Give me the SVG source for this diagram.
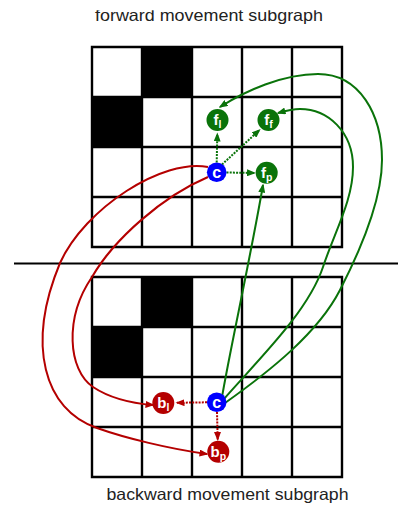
<svg xmlns="http://www.w3.org/2000/svg" width="398" height="508" viewBox="0 0 398 508">
<defs>
<marker id="ar" markerUnits="userSpaceOnUse" markerWidth="9" markerHeight="7" refX="7.5" refY="3.5" orient="auto"><path d="M0,0 L9,3.5 L0,7 z" fill="#b40000"/></marker>
<marker id="ag" markerUnits="userSpaceOnUse" markerWidth="9" markerHeight="7" refX="7.5" refY="3.5" orient="auto"><path d="M0,0 L9,3.5 L0,7 z" fill="#0a730a"/></marker>
<clipPath id="clipTop"><rect x="0" y="10.2" width="398" height="20"/></clipPath>
</defs>
<style>
.gridline {fill:none; stroke:#000; stroke-width:2.4}
.blk {fill:#000}
.red {fill:none; stroke:#b40000; stroke-width:2}
.green {fill:none; stroke:#0a730a; stroke-width:2}
.dot {stroke-dasharray:2 1.2}
.lbl {font-family:"Liberation Sans", Arial, sans-serif; font-weight:bold; fill:#fff; text-anchor:middle}
.title {font-family:"Liberation Sans", Arial, sans-serif; font-size:16.5px; fill:#222}
.nc {fill:#0000ff}
.ng {fill:#0a730a}
.nr {fill:#b40000}
</style>

<g id="title-forward" clip-path="url(#clipTop)">
<text class="title" x="95" y="21" textLength="228" lengthAdjust="spacingAndGlyphs">forward movement subgraph</text>
</g>
<g id="title-backward">
<text class="title" x="106.5" y="499.5" textLength="242" lengthAdjust="spacingAndGlyphs">backward movement subgraph</text>
</g>

<g id="grid-forward">
<rect class="blk" x="142" y="47" width="50" height="50"/>
<rect class="blk" x="92" y="97" width="50" height="50"/>
<path class="gridline" d="M92,47 H342 V247 H92 Z M142,47 V247 M192,47 V247 M242,47 V247 M292,47 V247 M92,97 H342 M92,147 H342 M92,197 H342"/>
</g>
<g id="grid-backward">
<rect class="blk" x="142" y="277" width="50" height="50"/>
<rect class="blk" x="92" y="327" width="50" height="50"/>
<path class="gridline" d="M92,277 H342 V477 H92 Z M142,277 V477 M192,277 V477 M242,277 V477 M292,277 V477 M92,327 H342 M92,377 H342 M92,427 H342"/>
</g>
<g id="divider">
<line x1="14" y1="263.5" x2="398" y2="263.5" stroke="#000" stroke-width="2"/>
</g>

<g id="connectors">
<path class="red" marker-end="url(#ar)" d="M208,167 C163,158 85,208 60,263 C26,345 44,410 97,428 C125,438 170,449 207,454"/>
<path class="red" marker-end="url(#ar)" d="M208,177 C163,196 114,239 92,277 C64,318 68,370 93,387 C108,397 128,403 153,405"/>
<path class="green" marker-end="url(#ag)" d="M225,403 C270,371 318,333 340,290 C360,251 382,200 382,160 C382,115 360,74 318,74 C283,74 245,91 220,107"/>
<path class="green" marker-end="url(#ag)" d="M223,400 C258,360 308,312 323,267 C335,231 353,200 353,167 C353,132 328,109 300,109 C292,109 285,111 278,113"/>
<path class="green" marker-end="url(#ag)" d="M222,397 C230,350 250,260 263,185"/>
<path class="green dot" marker-end="url(#ag)" d="M216.7,162.5 L217.3,134"/>
<path class="green dot" marker-end="url(#ag)" d="M222,164.5 L259.5,130"/>
<path class="green dot" marker-end="url(#ag)" d="M226.5,172.5 L254.5,173"/>
<path class="red dot" marker-end="url(#ar)" d="M207,402.3 L177,402.8"/>
<path class="red dot" marker-end="url(#ar)" d="M217,412 L217.7,439.5"/>
</g>

<g id="node-c-forward">
<circle class="nc" cx="216.7" cy="172.3" r="9.8"/>
<text class="lbl" x="216.7" y="177.8" font-size="16">c</text>
</g>
<g id="node-fl">
<circle class="ng" cx="217.5" cy="120" r="11"/>
<text class="lbl" x="217.5" y="125" font-size="15">f<tspan font-size="10.5" dy="3">l</tspan></text>
</g>
<g id="node-ff">
<circle class="ng" cx="268.5" cy="120" r="11"/>
<text class="lbl" x="268.5" y="125" font-size="15">f<tspan font-size="10.5" dy="3">f</tspan></text>
</g>
<g id="node-fp">
<circle class="ng" cx="266.7" cy="172.7" r="11"/>
<text class="lbl" x="266.7" y="177.5" font-size="15">f<tspan font-size="10.5" dy="3">p</tspan></text>
</g>
<g id="node-c-backward">
<circle class="nc" cx="216.7" cy="402.3" r="9.8"/>
<text class="lbl" x="216.7" y="407.8" font-size="16">c</text>
</g>
<g id="node-bl">
<circle class="nr" cx="163.3" cy="403" r="11"/>
<text class="lbl" x="163.3" y="408" font-size="15">b<tspan font-size="10.5" dy="3">l</tspan></text>
</g>
<g id="node-bp">
<circle class="nr" cx="218.3" cy="451.7" r="11"/>
<text class="lbl" x="218.3" y="456.7" font-size="15">b<tspan font-size="10.5" dy="3">p</tspan></text>
</g>
</svg>
